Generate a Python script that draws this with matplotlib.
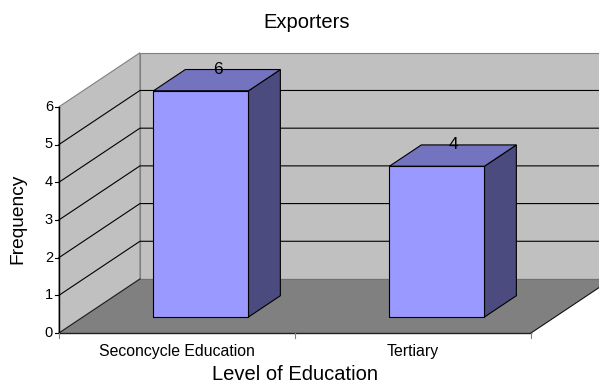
import matplotlib
matplotlib.use("Agg")
import matplotlib.pyplot as plt
from matplotlib.patches import Polygon

plt.rcParams["font.family"] = ["Liberation Sans", "DejaVu Sans"]

# data
categories = ["Seconcycle Education", "Tertiary"]
frequency = [6, 4]
y_ticks = [0, 1, 2, 3, 4, 5, 6]
title = "Exporters"
x_title = "Level of Education"
y_title = "Frequency"

# oblique projection: one unit of depth shifts right and up (data units)
DDX, DDY = 0.343, 1.433
YMAX = 6
NCAT = len(categories)


def pt(x, v, d):
    return (x + d * DDX, v + d * DDY)


fig = plt.figure(figsize=(5.99, 3.82), dpi=100)
ax = fig.add_axes([0, 0, 1, 1])
ax.set_xlim(-59 / 236, 540 / 236)
ax.set_ylim(-49 / 37.7, 333 / 37.7)
ax.axis("off")

wall = "#c0c0c0"
floor = "#808080"
edge = "#808080"

# side wall
ax.add_patch(Polygon([pt(0, 0, 0), pt(0, 0, 1), pt(0, YMAX, 1), pt(0, YMAX, 0)],
                     closed=True, fc=wall, ec=edge, lw=0.8, zorder=1))
# back wall
ax.add_patch(Polygon([pt(0, 0, 1), pt(NCAT, 0, 1), pt(NCAT, YMAX, 1), pt(0, YMAX, 1)],
                     closed=True, fc=wall, ec=edge, lw=0.8, zorder=1))
# floor
ax.add_patch(Polygon([pt(0, 0, 0), pt(NCAT, 0, 0), pt(NCAT, 0, 1), pt(0, 0, 1)],
                     closed=True, fc=floor, ec="none", zorder=2))
ax.plot(*zip(pt(0, 0, 1), pt(NCAT, 0, 1)), color="#707070", lw=0.8, zorder=2)
ax.plot(*zip(pt(0, 0, 0), pt(0, 0, 1)), color="#202020", lw=0.8, zorder=3)
ax.plot(*zip(pt(NCAT, 0, 0), pt(NCAT, 0, 1)), color="#101010", lw=0.8, zorder=3)
ax.plot(*zip(pt(0, 0, 0), pt(NCAT, 0, 0)), color="#202020", lw=1.0, zorder=3)

# gridlines on side and back walls
for t in y_ticks[1:-1]:
    xs, ys = zip(pt(0, t, 0), pt(0, t, 1), pt(NCAT, t, 1))
    ax.plot(xs, ys, color="black", lw=0.8, zorder=2)

# value axis
ax.plot([0, 0], [0, YMAX], color="black", lw=1.0, zorder=3)
for t in y_ticks:
    ax.plot([-4 / 236, 0], [t, t], color="black", lw=0.8, zorder=3)
    ax.text(-6 / 236, t, str(t), ha="right", va="center", fontsize=10.5)

# category axis ticks and labels
for i in range(NCAT + 1):
    ax.plot([i, i], [0, -5 / 37.7], color="#808080", lw=0.8, zorder=3)
for i, name in enumerate(categories):
    ax.text(i + 0.5, -0.5, name, ha="center", va="center", fontsize=11.4)

# bars
half_w = 0.2013
d0, d1 = 0.296, 0.69
front_c = "#9999ff"
top_c = "#7373c0"
side_c = "#4b4b80"
for i, v in enumerate(frequency):
    cx = i + 0.5
    xl, xr = cx - half_w, cx + half_w
    front = [pt(xl, 0, d0), pt(xr, 0, d0), pt(xr, v, d0), pt(xl, v, d0)]
    top = [pt(xl, v, d0), pt(xr, v, d0), pt(xr, v, d1), pt(xl, v, d1)]
    side = [pt(xr, 0, d0), pt(xr, 0, d1), pt(xr, v, d1), pt(xr, v, d0)]
    for poly, c in ((side, side_c), (top, top_c), (front, front_c)):
        ax.add_patch(Polygon(poly, closed=True, fc=c, ec="black", lw=0.8, zorder=4))
    lx, _ = pt(cx, v, 0.5)
    _, ly = pt(cx, v, d1)
    ax.text(lx, ly, str(v), ha="center", va="center", fontsize=12.5, zorder=5)

fig.text(307 / 599, 1 - 22 / 382, title, ha="center", va="center", fontsize=14.5)
fig.text(294.5 / 599, 1 - 374 / 382, x_title, ha="center", va="center", fontsize=14.5)
fig.text(18 / 599, 1 - 218.5 / 382, y_title, ha="center", va="center",
         rotation=90, fontsize=13.8)

fig.savefig("out.png", dpi=100)
plt.close(fig)
